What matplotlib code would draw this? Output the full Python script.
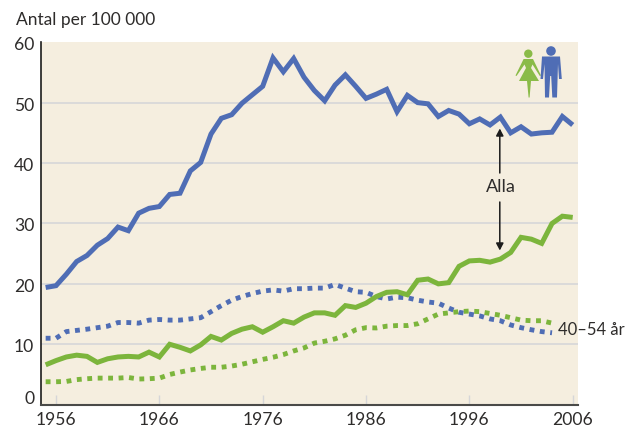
import matplotlib
matplotlib.use("Agg")
import matplotlib.pyplot as plt
from matplotlib.patches import Polygon, Circle
from matplotlib.transforms import Affine2D, ScaledTranslation
import numpy as np

years = list(range(1955, 2007))
years_40_54 = list(range(1955, 2005))
alla_men = [19.4, 19.7, 21.6, 23.7, 24.7, 26.4, 27.5, 29.4, 28.8, 31.7, 32.5, 32.8, 34.8, 35.0, 38.7, 40.1, 44.8, 47.4, 48.0, 49.9,
            51.3, 52.7, 57.4, 55.1, 57.3, 54.2, 52.0, 50.3, 52.9, 54.6, 52.7, 50.7, 51.4, 52.2, 48.5, 51.2, 50.0, 49.8, 47.7, 48.7,
            48.1, 46.5, 47.3, 46.3, 47.6, 45.0, 46.0, 44.8, 45.0, 45.1, 47.7, 46.3]
alla_women = [6.6, 7.3, 7.9, 8.2, 8.0, 7.0, 7.6, 7.9, 8.0, 7.9, 8.7, 7.9, 10.0, 9.5, 8.9, 9.9, 11.3, 10.7, 11.8, 12.5,
              12.9, 12.0, 12.9, 13.9, 13.5, 14.5, 15.2, 15.2, 14.8, 16.4, 16.1, 16.8, 17.9, 18.6, 18.7, 18.2, 20.6, 20.8, 20.0, 20.2,
              22.9, 23.8, 23.9, 23.6, 24.1, 25.2, 27.7, 27.4, 26.7, 30.0, 31.2, 31.0]
mid_men = [11.0, 11.0, 12.1, 12.3, 12.5, 12.75, 13.0, 13.6, 13.6, 13.5, 14.0, 14.1, 14.0, 14.0, 14.2, 14.4, 15.4, 16.4, 17.3, 17.9,
           18.4, 18.8, 19.0, 18.8, 19.2, 19.2, 19.3, 19.3, 19.9, 19.3, 18.7, 18.6, 17.9, 17.5, 17.8, 17.7, 17.3, 17.0, 16.8, 16.0,
           15.3, 15.0, 14.7, 14.2, 13.9, 13.2, 12.75, 12.4, 12.1, 11.9]
mid_women = [3.8, 3.8, 3.85, 4.15, 4.3, 4.4, 4.4, 4.4, 4.5, 4.25, 4.3, 4.4, 5.0, 5.4, 5.75, 6.0, 6.2, 6.2, 6.4, 6.7,
             7.1, 7.5, 7.85, 8.3, 8.9, 9.4, 10.2, 10.5, 10.9, 11.5, 12.4, 12.75, 12.7, 13.0, 13.1, 13.1, 13.4, 14.2, 15.0, 15.2,
             15.4, 15.5, 15.4, 15.1, 14.8, 14.4, 14.0, 13.9, 13.9, 13.5]
xtick_years = [1956, 1966, 1976, 1986, 1996, 2006]
yticks = [0, 10, 20, 30, 40, 50, 60]

BLUE = "#4F6DB5"
GREEN = "#7CB53C"
BG = "#F5EEDF"
GRID = "#D6D6D8"
TXT = "#2E2C2B"
W, H = 636, 429

plt.rcParams["font.family"] = ["Lato", "DejaVu Sans"]
fig = plt.figure(figsize=(W / 100, H / 100), dpi=100, facecolor="white")
L, R, T, B = 40.5, 578, 42.2, 404.7
ax = fig.add_axes([L / W, 1 - B / H, (R - L) / W, (B - T) / H], facecolor=BG)
ax.set_xlim(1956 - (56 - L) / 10.335, 2006 + (R - 572.7) / 10.335)
ax.set_ylim(0, 60)

for s in ("top", "right"):
    ax.spines[s].set_visible(False)
ax.spines["left"].set_linewidth(1.2)
ax.spines["left"].set_color("#1c1c1c")
ax.spines["bottom"].set_linewidth(1.5)
ax.spines["bottom"].set_color("#4a4a48")

ax.set_yticks(yticks)
ax.set_xticks(xtick_years)
ax.tick_params(axis="y", length=0, pad=4.5, labelsize=12.6, labelcolor=TXT)
ax.tick_params(axis="x", direction="in", length=7.5, width=1.0, color=GRID, pad=5, labelsize=12.6, labelcolor=TXT)
for v in yticks[1:-1]:
    ax.axhline(v, color=GRID, lw=1.2, zorder=1)
for lab, v in zip(ax.get_yticklabels(), yticks):
    dy = 7 if v == 0 else -1.4
    lab.set_transform(lab.get_transform() + ScaledTranslation(0, dy / 100, fig.dpi_scale_trans))

solid = dict(lw=3.6, solid_joinstyle="miter", solid_capstyle="butt", zorder=3)
dotted = dict(lw=3.5, linestyle=(0, (1.0, 1.15)), dash_capstyle="butt", zorder=3)
ax.plot(years_40_54, mid_men, color=BLUE, **dotted)
ax.plot(years_40_54, mid_women, color=GREEN, **dotted)
ax.plot(years, alla_men, color=BLUE, **solid)
ax.plot(years, alla_women, color=GREEN, **solid)

px = Affine2D().scale(1, -1).translate(0, H)  # reference pixels to display
fig.text(16 / W, 1 - 20.5 / H, "Antal per 100 000", fontsize=12.5, color=TXT, ha="left", va="center")
fig.text(500.5 / W, 1 - 187.5 / H, "Alla", fontsize=13, color=TXT, ha="center", va="center")
fig.text(557.5 / W, 1 - 330 / H, "40–54 år", fontsize=12, color=TXT, ha="left", va="center")

arrow = dict(arrowstyle="-|>,head_width=0.22,head_length=0.42", color="#1c1c1c", lw=1.1, shrinkA=0, shrinkB=0)
ann = dict(xycoords="figure pixels", textcoords="figure pixels", arrowprops=arrow)
ax.annotate("", xy=(499.8, H - 128.5), xytext=(499.8, H - 173), **ann)
ax.annotate("", xy=(499.8, H - 250.5), xytext=(499.8, H - 202), **ann)

# pictogram, outline given in reference pixels
ICON_GREEN = "#8ABB48"
woman = [(523.6, 59), (533, 59), (541, 75.5), (539.8, 76), (532.5, 64.5), (531, 68), (539, 81), (531, 81), (529.6, 97.5),
         (528.6, 97.5), (527, 81), (519, 81), (526, 68), (524.5, 64.5), (516.5, 76), (515.5, 75.5)]
man = [(542, 56.5), (560, 56.5), (561.8, 79), (559, 79), (558, 64), (557, 97.5), (552.3, 97.5), (551.2, 76), (550.2, 76),
       (549, 97.5), (545, 97.5), (544.5, 64), (543, 79), (540.5, 79)]
fig.add_artist(Polygon(woman, closed=True, fc=ICON_GREEN, ec="none", transform=px))
fig.add_artist(Circle((528.3, 53.7), 4.2, fc=ICON_GREEN, ec="none", transform=px))
fig.add_artist(Polygon(man, closed=True, fc=BLUE, ec="none", transform=px))
fig.add_artist(Circle((551, 51), 4.8, fc=BLUE, ec="none", transform=px))

fig.savefig("out.png", dpi=100)
